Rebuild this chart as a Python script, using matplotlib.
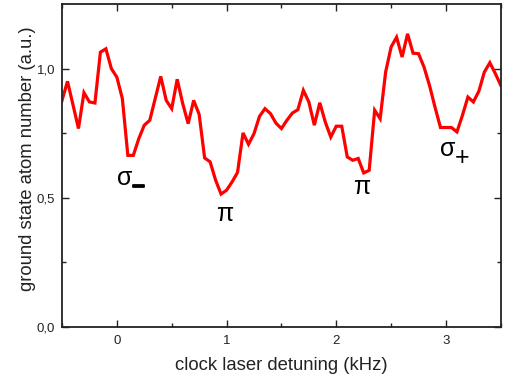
import matplotlib
matplotlib.use("Agg")
import matplotlib.pyplot as plt
import matplotlib.patheffects as pe
import numpy as np
from matplotlib.ticker import FixedLocator, FuncFormatter

plt.rcParams['font.family'] = ['Liberation Sans', 'DejaVu Sans']

detuning_khz = [-0.50, -0.45, -0.40, -0.35, -0.30, -0.25, -0.20, -0.15, -0.10, -0.05,
                0.00, 0.05, 0.10, 0.15, 0.20, 0.25, 0.30, 0.35, 0.40, 0.45,
                0.50, 0.55, 0.60, 0.65, 0.70, 0.75, 0.80, 0.85, 0.90, 0.95,
                1.00, 1.05, 1.10, 1.15, 1.20, 1.25, 1.30, 1.35, 1.40, 1.45,
                1.50, 1.55, 1.60, 1.65, 1.70, 1.75, 1.80, 1.85, 1.90, 1.95,
                2.00, 2.05, 2.10, 2.15, 2.20, 2.25, 2.30, 2.35, 2.40, 2.45,
                2.50, 2.55, 2.60, 2.65, 2.70, 2.75, 2.80, 2.85, 2.90, 2.95,
                3.00, 3.05, 3.10, 3.15, 3.20, 3.25, 3.30, 3.35, 3.40, 3.45, 3.50]
atom_number = [0.877, 0.951, 0.86, 0.768, 0.907, 0.871, 0.867, 1.064, 1.077, 1.000,
               0.967, 0.884, 0.664, 0.664, 0.729, 0.781, 0.800, 0.885, 0.970, 0.877,
               0.845, 0.959, 0.865, 0.787, 0.877, 0.823, 0.654, 0.639, 0.568, 0.514,
               0.529, 0.561, 0.598, 0.751, 0.707, 0.748, 0.815, 0.845, 0.826, 0.789,
               0.768, 0.800, 0.828, 0.841, 0.916, 0.871, 0.781, 0.868, 0.793, 0.735,
               0.777, 0.777, 0.658, 0.645, 0.652, 0.596, 0.606, 0.839, 0.806, 0.987,
               1.084, 1.122, 1.045, 1.135, 1.060, 1.058, 1.006, 0.935, 0.851, 0.772,
               0.772, 0.772, 0.755, 0.819, 0.890, 0.871, 0.913, 0.987, 1.023, 0.981, 0.935]

x_ticks = [0, 1, 2, 3]
y_ticks = [0.0, 0.5, 1.0]

fig = plt.figure(figsize=(5.10, 3.78), dpi=100)
ax = fig.add_axes([0.1216, 0.1357, 0.982 - 0.1216, 0.989 - 0.1357])
ax.plot(detuning_khz, atom_number, color='#ff0000', lw=2.3, solid_joinstyle='miter')

ax.set_xlim(-0.5, 3.5)
ax.set_ylim(0, 1.25)
ax.xaxis.set_major_locator(FixedLocator(x_ticks))
ax.xaxis.set_minor_locator(FixedLocator([-0.5, 0.5, 1.5, 2.5, 3.5]))
ax.yaxis.set_major_locator(FixedLocator(y_ticks))
ax.yaxis.set_minor_locator(FixedLocator([0.25, 0.75]))
ax.xaxis.set_major_formatter(FuncFormatter(lambda v, p: f"{v:.0f}"))
ax.yaxis.set_major_formatter(FuncFormatter(lambda v, p: f"{v:.1f}".replace('.', ',')))
ax.tick_params(which='both', direction='in', top=True, right=True, colors='#222222',
               labelcolor='#222222', labelsize=9.5, width=1.0)
ax.tick_params(axis='x', which='major', pad=6)
ax.tick_params(axis='y', which='major', pad=5)
ax.tick_params(which='major', length=5)
ax.tick_params(which='minor', length=3)
for s in ax.spines.values():
    s.set_linewidth(1.3)
    s.set_color('#222222')

ax.set_xlabel('clock laser detuning (kHz)', fontsize=13.3, color='#222222', labelpad=7)
ax.set_ylabel('ground state atom number (a.u.)', fontsize=13.3, color='#222222')
ax.yaxis.set_label_coords(-0.06, 0.52)

tk = dict(fontsize=18, color='black', va='center')
ax.text(0.139, 0.575, 'σ', ha='right', **tk)
ax.text(0.136, 0.537, '−', fontsize=16, fontweight='bold', color='black', ha='left', va='center',
        path_effects=[pe.withStroke(linewidth=1.3, foreground='black')])
ax.text(0.98, 0.437, 'π', ha='center', **tk)
ax.text(2.23, 0.54, 'π', ha='center', **tk)
ax.text(3.082, 0.69, 'σ', ha='right', **tk)
ax.text(3.082, 0.655, '+', fontsize=18, color='black', ha='left', va='center')

fig.savefig('out.png', dpi=100)
